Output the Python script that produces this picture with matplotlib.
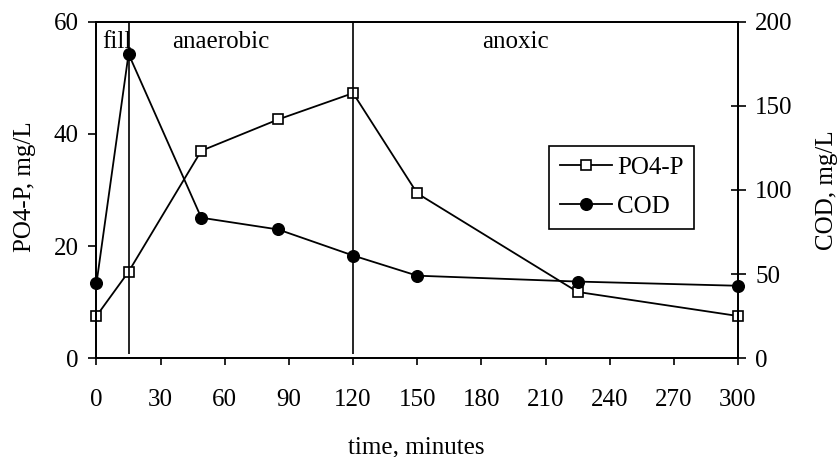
import matplotlib
matplotlib.use("Agg")
import matplotlib.pyplot as plt

# sampling times and measured concentrations
time_min = [0, 15, 49, 85, 120, 150, 225, 300]
po4_p = [7.5, 15.4, 37.0, 42.6, 47.3, 29.4, 11.8, 7.5]
cod = [44.5, 181, 83.5, 76.5, 61, 49, 45.5, 43]

# phase boundaries and names
phase_bounds = [15, 120]
phase_names = ["fill", "anaerobic", "anoxic"]
phase_label_x = [2.5, 35.5, 180.5]

plt.rcParams['font.family'] = ['Liberation Serif', 'DejaVu Serif']
plt.rcParams['font.size'] = 18

fig = plt.figure(figsize=(8.39, 4.57), dpi=100)
ax1 = fig.add_axes([0.115, 0.2166, 0.7646, 0.7353])
ax2 = ax1.twinx()

l1, = ax1.plot(time_min, po4_p, color='k', lw=1.3, marker='s', ms=7.2,
               mfc='white', mec='k', mew=1.2, clip_on=False, label='PO4-P')
l2, = ax2.plot(time_min, cod, color='k', lw=1.3, marker='o', ms=8.4,
               mfc='k', mec='k', clip_on=False, label='COD')

ax1.vlines(phase_bounds, 0.8, 60, color='k', lw=1.2)
for name, x in zip(phase_names, phase_label_x):
    ax1.text(x, 56.4, name, ha='left', va='center')

ax1.set_xlim(0, 300)
ax1.set_xticks(range(0, 301, 30))
ax1.set_ylim(0, 60)
ax1.set_yticks([0, 20, 40, 60])
ax2.set_ylim(0, 200)
ax2.set_yticks([0, 50, 100, 150, 200])

for ax in (ax1, ax2):
    for s in ax.spines.values():
        s.set_linewidth(1.3)

ax1.tick_params(axis='x', direction='out', length=5, width=1.2, pad=17)
ax1.tick_params(axis='y', direction='out', length=5.8, width=1.2, pad=7)
ax2.tick_params(axis='y', direction='inout', length=10.8, width=1.2, pad=7)

ax1.set_xlabel("time, minutes")
ax1.xaxis.set_label_coords(0.498, -0.234)
ax1.set_ylabel("PO4-P, mg/L")
ax1.yaxis.set_label_coords(-0.095, 0.51)
ax2.set_ylabel("COD, mg/L")
ax2.yaxis.set_label_coords(1.122, 0.5)

leg = ax2.legend(handles=[l1, l2], loc='upper left', bbox_to_anchor=(0.706, 0.632),
                 borderaxespad=0, fancybox=False, framealpha=1, edgecolor='k',
                 handlelength=2.1, handletextpad=0.2, labelspacing=0.68,
                 borderpad=0.42)
leg.get_frame().set_linewidth(1.2)

fig.savefig("out.png", dpi=100)
